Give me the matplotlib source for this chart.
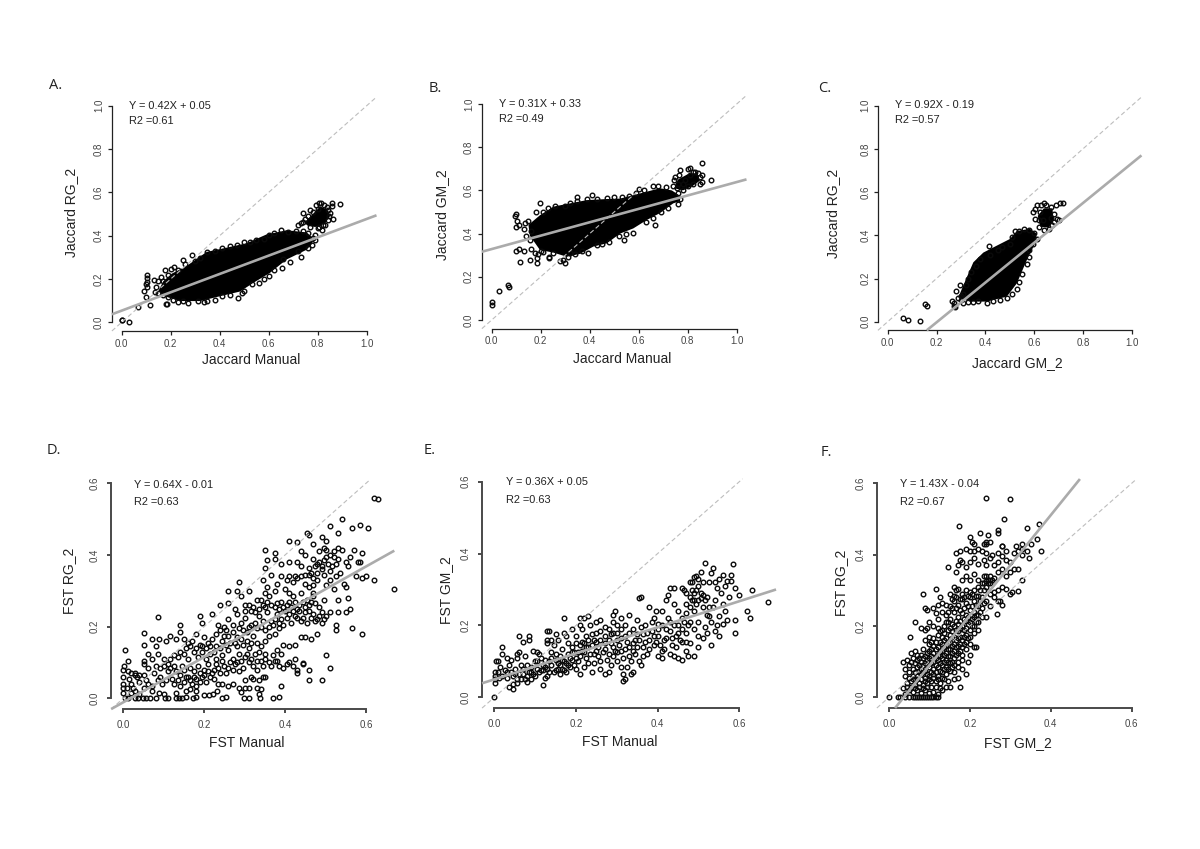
import matplotlib
matplotlib.use("Agg")
import matplotlib.pyplot as plt

plt.rcParams['font.family'] = ['Liberation Sans', 'DejaVu Sans']

W, H = 1200, 849

# solid black middle of the three Jaccard clouds, outline
a_core = [(.15,.145),(.17,.19),(.205,.225),(.265,.26),(.347,.325),(.43,.345),(.51,.365),(.59,.405),(.673,.425),(.755,.415),(.785,.385),
          (.775,.36),(.755,.335),(.673,.29),(.605,.228),(.537,.182),(.483,.142),(.40,.12),(.32,.098),(.238,.098),(.17,.122)]
a_blob = [(.745,.46),(.78,.50),(.81,.535),(.84,.52),(.85,.49),(.83,.455),(.79,.44),(.76,.445)]
b_core = [(.15,.44),(.197,.485),(.252,.525),(.32,.54),(.388,.555),(.47,.56),(.524,.562),(.578,.578),(.633,.594),(.687,.61),(.735,.6),(.769,.575),
          (.769,.55),(.741,.54),(.687,.495),(.633,.463),(.578,.424),(.524,.4),(.47,.355),(.415,.34),(.36,.306),(.306,.293),(.252,.312),(.197,.324),(.156,.39)]
b_blob = [(.745,.61),(.76,.65),(.8,.675),(.84,.68),(.85,.645),(.82,.62),(.78,.60)]
c_core = [(.29,.11),(.296,.13),(.324,.205),(.351,.275),(.392,.32),(.447,.352),(.501,.383),(.529,.42),(.583,.43),(.608,.41),(.611,.378),
          (.57,.285),(.529,.177),(.488,.116),(.406,.093),(.337,.093)]
c_blob = [(.625,.44),(.615,.49),(.64,.525),(.675,.525),(.68,.47),(.66,.435)]

# open circles around the rims and the stragglers
a_pts = [(0,.012),(.002,.01),(.029,.002),(.065,.07),(.116,.08),(.184,.083),(.18,.085),(.098,.118),(.09,.146),(.102,.165),(.105,.188),
         (.105,.218),(.105,.203),(.1,.175),(.13,.195),(.136,.142),(.14,.165),(.15,.19),(.16,.21),(.17,.19),(.177,.24),(.19,.22),(.2,.245),(.215,.257),(.23,.24),
         (.249,.288),(.26,.27),(.288,.31),(.3,.285),(.32,.295),(.35,.325),(.38,.33),(.41,.345),(.44,.35),(.47,.355),(.5,.37),(.525,.37),
         (.55,.38),(.58,.385),(.6,.405),(.62,.41),(.65,.425),(.68,.415),(.71,.42),(.74,.42),(.76,.41),(.79,.403),(.78,.39),
         (.79,.38),(.775,.355),(.76,.345),(.72,.33),(.732,.303),(.687,.277),(.66,.29),(.653,.252),(.62,.24),(.6,.215),(.58,.2),(.559,.18),
         (.53,.175),(.5,.145),(.49,.135),(.473,.113),(.44,.125),(.41,.12),(.38,.105),(.337,.095),(.35,.1),(.31,.1),(.272,.088),(.25,.1),
         (.23,.095),(.21,.105),(.19,.115),(.17,.125),(.15,.135),(.891,.546),(.86,.549),(.86,.538),(.861,.477),(.816,.426),(.721,.449),
         (.741,.503),(.769,.518),(.793,.54),(.807,.549),(.837,.534),(.85,.503),(.823,.449),(.73,.46),(.75,.475),(.77,.44),(.8,.435),
         (.84,.47),(.845,.49),(.815,.55),(.825,.54),(.84,.52),(.78,.51),(.76,.49),(.74,.465),(.8,.525),(.83,.45),(.805,.44)]
b_pts = [(0,.085),(0,.07),(.03,.135),(.066,.16),(.07,.153),(.1,.43),(.095,.48),(.1,.49),(.105,.46),(.11,.44),(.13,.42),(.135,.45),(.15,.46),
         (.18,.5),(.197,.54),(.21,.5),(.23,.52),(.26,.53),(.3,.53),(.32,.54),(.35,.55),(.35,.57),(.39,.56),(.41,.58),(.43,.56),(.47,.565),(.5,.57),
         (.53,.57),(.56,.575),(.59,.59),(.6,.605),(.62,.6),(.66,.62),(.68,.62),(.71,.615),(.74,.62),(.75,.66),(.745,.65),(.765,.67),(.77,.695),(.8,.7),(.81,.705),
         (.86,.725),(.895,.65),(.86,.67),(.86,.64),(.85,.63),(.84,.68),(.82,.685),(.8,.62),(.78,.6),(.76,.59),(.77,.56),(.76,.535),(.72,.52),(.69,.5),(.665,.44),
         (.66,.47),(.63,.455),(.575,.405),(.55,.4),(.54,.37),(.52,.39),(.48,.36),(.45,.35),(.43,.345),(.395,.31),(.37,.32),(.34,.305),(.32,.31),(.31,.29),(.3,.265),(.29,.28),
         (.28,.275),(.25,.31),(.235,.285),(.235,.29),(.2,.32),(.19,.305),(.185,.285),(.185,.265),(.155,.28),(.115,.27),(.1,.32),(.11,.33),(.13,.32),(.16,.33),(.155,.37),(.14,.39),
         (.16,.41),(.175,.31),(.21,.315),(.78,.63),(.79,.65),(.81,.67),(.83,.685),(.76,.63),(.755,.61),(.85,.66),(.82,.63)]
c_pts = [(.063,.015),(.083,.01),(.134,.002),(.153,.08),(.16,.072),(.262,.095),(.27,.085),(.27,.075),(.275,.07),(.28,.14),(.29,.11),(.3,.1),(.295,.17),(.31,.13),(.32,.17),
         (.33,.2),(.34,.23),(.36,.26),(.38,.29),(.416,.35),(.42,.31),(.45,.33),(.47,.345),(.5,.36),(.51,.39),(.52,.42),(.54,.42),(.56,.43),(.58,.425),(.6,.41),(.61,.385),
         (.595,.36),(.58,.33),(.58,.3),(.57,.265),(.55,.22),(.54,.185),(.53,.15),(.51,.13),(.49,.11),(.46,.1),(.43,.095),(.405,.085),(.37,.095),(.35,.09),(.33,.09),(.31,.085),
         (.3,.12),(.62,.44),(.603,.475),(.605,.52),(.595,.51),(.61,.54),(.63,.54),(.64,.55),(.65,.54),(.67,.53),(.69,.54),(.705,.55),(.72,.55),(.68,.5),(.695,.475),(.7,.47),(.675,.45),
         (.66,.43),(.64,.425),(.62,.47),(.625,.51),(.67,.48),(.68,.46),(.635,.47)]

d_pts = [(.003,.0),(.012,.0),(.028,.0),(.036,.0),(.048,.0),(.056,.0),(.066,.0),(.082,.0),(.102,.0),(.11,.0),(.13,.0),(.138,.0),(.146,.0),(.156,.005),(.172,.0),(.18,.005),
         (.245,.0),(.255,.004),(.298,.0),(.31,.0),(.338,.0),(.37,.0),(.385,.004),(.335,.012),(.2,.008),(.212,.01),(.222,.012),(.232,.02),(.29,.018),(.3,.028),(.31,.03),(.33,.03),
         (.34,.025),(.07,.02),(.088,.015),(.1,.012),(.13,.015),(.155,.02),(.165,.025),(.18,.02),(.02,.015),(.03,.02),(.04,.012),(.05,.03),(.01,.03),(.0,.03),(.0,.015),
         (.0,.04),(.02,.04),(.04,.045),(.055,.05),(.07,.035),(.085,.05),(.095,.04),(.125,.04),(.135,.05),(.14,.035),(.15,.045),(.16,.06),(.17,.04),(.18,.055),(.19,.045),(.2,.065),
         (.215,.06),(.225,.055),(.235,.04),(.245,.04),(.26,.035),(.27,.04),(.285,.03),(.3,.05),(.315,.06),(.32,.055),(.335,.05),(.345,.06),(.35,.06),(.39,.035),(.0,.06),(.03,.065),
         (.05,.065),(.105,.05),(.12,.055),(.43,.07),(.46,.05),(.49,.05),(.43,.08),(.445,.095),(.0,.08),(.002,.09),(.012,.075),(.02,.07),(.03,.07),(.04,.065),(.05,.095),(.06,.085),
         (.08,.09),(.09,.085),(.1,.09),(.11,.095),(.115,.085),(.13,.075),(.15,.08),(.165,.085),(.175,.075),(.185,.09),(.2,.08),(.21,.095),(.225,.08),(.24,.07),(.25,.09),(.26,.085),
         (.27,.08),(.28,.1),(.295,.085),(.31,.1),(.32,.09),(.33,.08),(.345,.09),(.36,.1),(.375,.105),(.385,.09),(.395,.085),(.405,.095),(.41,.1),(.42,.09),(.425,.11),(.46,.08),
         (.51,.085),(.5,.12),(.445,.098),(.005,.135),(.012,.105),(.05,.105),(.06,.125),(.07,.11),(.085,.125),(.1,.11),(.115,.11),(.125,.12),(.135,.115),(.15,.125),(.16,.11),(.175,.13),
         (.185,.115),(.195,.13),(.205,.11),(.215,.125),(.23,.11),(.245,.12),(.26,.135),(.27,.11),(.285,.125),(.3,.115),(.31,.14),(.325,.125),(.335,.13),(.35,.11),(.37,.12),(.38,.135),
         (.39,.125),(.41,.145),(.425,.15),(.44,.17),(.23,.145),(.05,.15),(.07,.165),(.08,.145),(.088,.165),(.105,.16),(.115,.175),(.13,.165),(.14,.185),(.15,.165),(.16,.155),(.17,.16),
         (.18,.18),(.19,.15),(.2,.17),(.21,.155),(.22,.165),(.23,.18),(.245,.16),(.26,.175),(.275,.155),(.29,.165),(.305,.185),(.32,.175),(.35,.16),(.36,.175),(.375,.18),(.385,.195),
         (.395,.15),(.45,.17),(.465,.165),(.48,.18),(.525,.19),(.525,.205),(.59,.18),(.565,.195),(.05,.183),(.085,.228),(.14,.205),(.19,.23),(.195,.21),(.22,.235),(.235,.205),(.25,.2),
         (.26,.22),(.27,.205),(.28,.235),(.29,.21),(.3,.225),(.315,.245),(.325,.21),(.335,.23),(.345,.215),(.355,.24),(.37,.205),(.38,.235),(.39,.22),(.4,.245),(.415,.21),(.425,.23),
         (.435,.245),(.445,.225),(.455,.21),(.47,.235),(.48,.22),(.49,.24),(.5,.23),(.49,.21),(.46,.245),(.51,.24),(.53,.24),(.55,.24),(.56,.25),(.24,.26),(.26,.265),(.275,.25),
         (.29,.285),(.3,.26),(.32,.255),(.33,.275),(.345,.26),(.36,.285),(.375,.255),(.39,.27),(.405,.26),(.42,.285),(.43,.25),(.445,.27),(.46,.26),(.47,.285),(.485,.255),(.495,.275),
         (.53,.275),(.555,.28),(.28,.3),(.26,.3),(.31,.3),(.35,.295),(.375,.3),(.41,.295),(.44,.295),(.47,.295),(.285,.325),(.345,.33),(.38,.32),(.39,.34),(.41,.34),(.42,.325),
         (.43,.335),(.44,.34),(.45,.32),(.46,.345),(.47,.315),(.48,.33),(.495,.345),(.51,.33),(.525,.34),(.535,.35),(.545,.32),(.55,.31),(.575,.34),(.6,.34),(.59,.335),(.62,.33),
         (.4,.305),(.365,.345),(.355,.31),(.668,.305),(.52,.305),(.5,.315),(.35,.365),(.355,.385),(.35,.415),(.375,.405),(.375,.39),(.39,.375),(.41,.38),(.43,.38),(.44,.37),(.44,.41),
         (.45,.4),(.46,.365),(.47,.39),(.48,.375),(.49,.36),(.5,.395),(.5,.415),(.515,.37),(.52,.41),(.53,.39),(.54,.415),(.55,.38),(.56,.395),(.57,.415),(.58,.38),(.59,.405),(.585,.38),
         (.555,.37),(.485,.41),(.51,.355),(.41,.44),(.43,.435),(.455,.46),(.46,.455),(.47,.43),(.49,.45),(.5,.44),(.53,.46),(.51,.48),(.54,.5),(.565,.475),(.585,.485),(.605,.475),
         (.62,.56),(.63,.555),(.495,.42)]
# second pass over the busier parts of D
d_more = [(.015,.055),(.025,.03),(.035,.06),(.06,.04),(.075,.07),(.09,.06),(.11,.075),(.125,.09),(.14,.065),(.145,.09),(.155,.06),(.165,.05),(.175,.06),(.18,.035),(.19,.07),(.195,.06),
          (.205,.045),(.21,.075),(.22,.07),(.23,.095),(.235,.085),(.245,.105),(.255,.07),(.265,.1),(.275,.095),(.285,.075),(.29,.105),(.305,.125),(.315,.11),(.33,.105),(.34,.105),
          (.35,.125),(.365,.09),(.38,.105),(.14,.13),(.155,.14),(.165,.145),(.18,.14),(.195,.145),(.205,.14),(.215,.145),(.225,.13),(.24,.14),(.255,.15),(.265,.155),(.28,.145),(.295,.15),
          (.305,.16),(.315,.155),(.33,.155),(.34,.145),(.24,.19),(.25,.175),(.255,.19),(.27,.185),(.28,.17),(.285,.195),(.295,.19),(.31,.2),(.315,.205),(.33,.195),(.34,.2),(.35,.19),
          (.36,.2),(.365,.215),(.375,.22),(.385,.21),(.395,.205),(.405,.225),(.41,.235),(.42,.245),(.43,.225),(.44,.215),(.45,.24),(.465,.225),(.475,.215),(.485,.23),(.495,.22),(.3,.245),
          (.31,.26),(.325,.24),(.335,.25),(.34,.275),(.35,.255),(.355,.27),(.365,.26),(.38,.265),(.385,.25),(.395,.255),(.41,.27),(.415,.255),(.425,.27),(.435,.26),(.45,.255),(.455,.275),
          (.465,.27),(.475,.265),(.46,.31),(.47,.335),(.48,.35),(.49,.37),(.495,.385),(.505,.375),(.51,.4),(.52,.395),(.525,.375),(.53,.42),(.485,.38),(.475,.37),(.465,.35),(.45,.345),
          (.425,.34),(.405,.33)]

e_pts = [(.0,.0),(.002,.04),(.002,.05),(.002,.06),(.002,.07),(.003,.1),(.01,.1),(.015,.085),(.02,.12),(.02,.14),(.03,.11),(.035,.09),(.04,.105),(.035,.03),(.045,.038),(.047,.022),
         (.055,.04),(.055,.05),(.06,.065),(.055,.12),(.055,.11),(.06,.125),(.06,.17),(.07,.155),(.085,.16),(.085,.17),(.07,.08),(.075,.115),(.08,.09),(.085,.07),(.075,.05),(.08,.042),
         (.09,.05),(.095,.13),(.105,.125),(.11,.12),(.115,.11),(.105,.08),(.115,.075),(.12,.035),(.125,.055),(.13,.06),(.13,.16),(.13,.15),(.13,.185),(.135,.185),(.14,.16),(.145,.145),
         (.15,.175),(.155,.16),(.14,.11),(.15,.12),(.14,.09),(.15,.075),(.16,.065),(.165,.135),(.17,.1),(.17,.18),(.17,.22),(.175,.17),(.18,.15),(.18,.12),(.19,.19),(.19,.14),(.19,.105),
         (.2,.08),(.2,.17),(.205,.125),(.21,.145),(.21,.065),(.215,.19),(.21,.2),(.21,.22),(.22,.22),(.225,.17),(.225,.11),(.23,.14),(.23,.095),(.235,.2),(.23,.225),(.01,.07),(.02,.06),
         (.025,.075),(.03,.055),(.04,.07),(.045,.06),(.05,.08),(.065,.09),(.09,.07),(.1,.1),(.1,.06),(.12,.09),(.125,.105),(.13,.08),(.135,.1),(.145,.07),(.155,.095),(.16,.115),(.165,.08),
         (.175,.07),(.185,.085),(.195,.125),(.2,.15),(.215,.13),(.22,.15),(.22,.085),(.24,.07),(.245,.12),(.245,.16),(.25,.18),(.25,.21),(.255,.14),(.26,.1),(.26,.08),(.27,.065),(.27,.15),
         (.27,.17),(.27,.195),(.28,.12),(.28,.07),(.285,.09),(.29,.14),(.29,.18),(.29,.21),(.29,.23),(.295,.24),(.3,.16),(.3,.1),(.31,.13),(.31,.085),(.315,.065),(.315,.045),(.32,.05),
         (.325,.085),(.32,.17),(.32,.2),(.33,.14),(.33,.23),(.335,.1),(.335,.065),(.34,.07),(.34,.19),(.345,.12),(.345,.16),(.35,.215),(.355,.1),(.355,.275),(.36,.28),(.36,.09),
         (.365,.14),(.365,.175),(.37,.2),(.375,.12),(.38,.16),(.38,.25),(.385,.185),(.39,.145),(.39,.22),(.395,.24),(.4,.115),(.4,.17),(.4,.205),(.41,.13),(.41,.11),(.41,.24),(.415,.16),
         (.42,.19),(.42,.27),(.425,.285),(.43,.12),(.43,.21),(.435,.145),(.44,.26),(.44,.115),(.445,.17),(.45,.11),(.45,.2),(.45,.24),(.46,.105),(.46,.155),(.46,.22),(.46,.305),
         (.465,.3),(.47,.13),(.47,.18),(.47,.26),(.475,.115),(.48,.15),(.48,.21),(.48,.28),(.485,.27),(.485,.32),(.49,.115),(.49,.19),(.49,.24),(.495,.3),(.5,.14),(.5,.17),(.5,.21),
         (.5,.27),(.505,.29),(.51,.25),(.51,.165),(.515,.195),(.52,.18),(.52,.28),(.525,.225),(.53,.145),(.53,.21),(.535,.25),(.54,.185),(.54,.27),(.545,.2),(.55,.17),(.55,.225),
         (.555,.29),(.56,.205),(.56,.26),(.565,.24),(.57,.215),(.575,.28),(.585,.37),(.58,.34),(.56,.34),(.55,.33),(.53,.345),(.535,.36),(.515,.375),(.505,.35),(.49,.335),(.495,.338),
         (.59,.18),(.59,.215),(.59,.305),(.6,.285),(.62,.24),(.625,.22),(.63,.3),(.67,.265),(.51,.32),(.525,.32),(.54,.32),(.545,.305),(.57,.325),(.58,.325),(.565,.31),(.48,.32),
         (.47,.29),(.44,.305),(.43,.305),(.5,.33),(.5,.31),(.26,.215),(.28,.19),(.31,.22),(.3,.2)]
# second pass over the busier parts of E
e_more = [(.012,.055),(.03,.07),(.05,.065),(.065,.05),(.07,.065),(.08,.06),(.09,.085),(.095,.065),(.105,.1),(.11,.07),(.12,.075),(.125,.085),(.135,.07),(.14,.125),(.15,.105),(.155,.08),
          (.16,.09),(.165,.105),(.17,.075),(.175,.095),(.18,.09),(.185,.11),(.19,.125),(.195,.09),(.2,.11),(.205,.1),(.21,.115),(.215,.155),(.22,.125),(.225,.14),(.23,.16),(.235,.12),
          (.24,.145),(.24,.175),(.245,.095),(.25,.13),(.25,.155),(.255,.115),(.26,.16),(.26,.185),(.265,.125),(.27,.135),(.275,.105),(.28,.16),(.285,.15),(.285,.175),(.29,.115),(.295,.13),
          (.3,.125),(.3,.18),(.305,.145),(.31,.165),(.31,.19),(.315,.11),(.32,.135),(.325,.155),(.33,.115),(.33,.18),(.34,.13),(.34,.15),(.35,.14),(.35,.175),(.355,.16),(.36,.195),(.365,.115),
          (.37,.155),(.375,.18),(.38,.135),(.385,.21),(.39,.17),(.395,.155),(.4,.19),(.405,.145),(.41,.2),(.415,.135),(.42,.165),(.425,.22),(.43,.185),(.435,.165),(.44,.2),(.445,.14),
          (.45,.18),(.455,.16),(.46,.19),(.465,.21),(.47,.155),(.47,.235),(.475,.2),(.48,.25),(.485,.3),(.49,.27),(.49,.29),(.495,.26),(.505,.275),(.51,.285),(.515,.27),(.52,.23),(.525,.25)]

f_pts = [(.0,.0),(.022,.0),(.028,.0),(.04,.0),(.05,.0),(.06,.0),(.065,.0),(.07,.0),(.075,.0),(.08,.0),(.085,.0),(.09,.0),(.095,.0),(.1,.0),(.105,.0),(.11,.0),(.115,.0),(.12,.0),
         (.04,.01),(.05,.02),(.06,.015),(.07,.02),(.08,.012),(.09,.02),(.1,.012),(.11,.015),(.12,.01),(.13,.02),(.14,.03),(.15,.03),(.175,.03),(.035,.025),(.045,.04),(.055,.045),(.065,.035),
         (.075,.04),(.085,.035),(.095,.04),(.105,.03),(.115,.045),(.125,.04),(.135,.05),(.145,.045),(.16,.05),(.17,.055),(.19,.065),(.04,.06),(.05,.07),(.06,.06),(.07,.06),(.08,.065),
         (.09,.055),(.1,.06),(.11,.065),(.12,.06),(.13,.07),(.14,.065),(.15,.075),(.16,.07),(.17,.085),(.18,.08),(.04,.08),(.05,.09),(.06,.08),(.07,.085),(.08,.08),(.09,.075),(.1,.085),
         (.11,.08),(.12,.085),(.13,.09),(.14,.085),(.15,.095),(.16,.09),(.17,.1),(.18,.105),(.195,.1),(.035,.1),(.045,.105),(.055,.1),(.06,.11),(.07,.105),(.08,.1),(.09,.095),(.1,.11),
         (.11,.1),(.12,.105),(.13,.11),(.14,.105),(.15,.115),(.16,.11),(.17,.125),(.18,.12),(.19,.135),(.2,.12),(.21,.14),(.055,.125),(.065,.13),(.07,.12),(.08,.12),(.09,.115),(.1,.13),
         (.11,.125),(.12,.12),(.13,.13),(.14,.125),(.15,.135),(.16,.13),(.17,.145),(.18,.14),(.19,.155),(.2,.15),(.215,.14),(.053,.168),(.085,.135),(.09,.16),(.1,.15),(.11,.145),(.12,.14),
         (.13,.15),(.14,.145),(.15,.155),(.16,.15),(.17,.165),(.18,.16),(.19,.175),(.2,.17),(.21,.18),(.22,.19),(.065,.212),(.08,.195),(.09,.19),(.095,.195),(.1,.17),(.11,.165),(.12,.175),
         (.13,.17),(.14,.165),(.15,.175),(.16,.17),(.17,.185),(.18,.18),(.19,.195),(.2,.19),(.21,.2),(.22,.21),(.23,.225),(.09,.25),(.095,.245),(.1,.21),(.11,.2),(.115,.235),(.12,.195),
         (.13,.19),(.14,.21),(.15,.195),(.16,.2),(.17,.205),(.18,.2),(.19,.215),(.2,.21),(.21,.225),(.22,.23),(.24,.225),(.11,.25),(.12,.22),(.13,.24),(.14,.23),(.15,.22),(.16,.24),
         (.17,.225),(.18,.235),(.19,.23),(.2,.245),(.21,.24),(.22,.255),(.23,.25),(.25,.255),(.268,.233),(.085,.29),(.12,.26),(.13,.265),(.14,.26),(.15,.255),(.16,.27),(.17,.26),
         (.18,.275),(.19,.265),(.2,.28),(.21,.27),(.22,.285),(.23,.28),(.24,.27),(.25,.29),(.26,.28),(.27,.27),(.28,.26),(.275,.27),(.115,.305),(.125,.28),(.15,.29),(.16,.285),(.165,.3),
         (.17,.305),(.18,.29),(.19,.3),(.2,.295),(.21,.3),(.22,.31),(.23,.32),(.24,.31),(.25,.32),(.26,.295),(.27,.3),(.28,.31),(.29,.305),(.3,.29),(.305,.295),(.318,.298),(.16,.31),
         (.18,.33),(.19,.34),(.2,.33),(.21,.345),(.22,.33),(.235,.34),(.24,.325),(.25,.34),(.26,.335),(.27,.35),(.28,.36),(.29,.34),(.3,.35),(.31,.36),(.32,.36),(.33,.33),(.147,.365),
         (.165,.35),(.17,.37),(.175,.385),(.18,.38),(.19,.365),(.2,.38),(.21,.39),(.22,.375),(.235,.385),(.24,.37),(.25,.39),(.26,.37),(.27,.38),(.28,.395),(.29,.385),(.3,.38),(.31,.405),
         (.32,.41),(.33,.4),(.345,.39),(.165,.405),(.175,.41),(.19,.415),(.2,.41),(.21,.41),(.22,.415),(.23,.41),(.24,.405),(.255,.4),(.27,.405),(.28,.425),(.29,.41),(.315,.425),(.33,.415),
         (.34,.41),(.375,.41),(.173,.48),(.2,.45),(.205,.435),(.21,.43),(.225,.46),(.235,.43),(.24,.435),(.24,.43),(.25,.435),(.27,.46),(.27,.47),(.28,.425),(.245,.455),(.285,.5),
         (.24,.56),(.3,.555),(.33,.43),(.34,.475),(.37,.485),(.365,.445),(.35,.43)]
# second pass over the busier parts of F
f_more = [(.045,.03),(.055,.03),(.065,.025),(.075,.03),(.085,.025),(.095,.03),(.105,.045),(.115,.03),(.125,.025),(.05,.055),(.06,.05),(.07,.05),(.08,.05),(.09,.045),(.1,.05),(.11,.055),
          (.12,.05),(.13,.055),(.065,.07),(.075,.075),(.085,.07),(.095,.065),(.105,.07),(.115,.07),(.125,.075),(.135,.08),(.145,.08),(.155,.085),(.065,.095),(.075,.09),(.085,.09),(.095,.09),
          (.105,.095),(.115,.09),(.125,.095),(.135,.1),(.145,.1),(.155,.1),(.165,.12),(.075,.11),(.085,.11),(.095,.105),(.105,.115),(.115,.11),(.125,.115),(.135,.12),(.145,.115),(.155,.125),
          (.175,.13),(.095,.125),(.105,.135),(.115,.135),(.125,.13),(.135,.14),(.145,.135),(.155,.145),(.165,.14),(.175,.15),(.185,.15),(.105,.155),(.115,.155),(.125,.155),(.135,.16),(.145,.155),
          (.155,.165),(.165,.16),(.175,.17),(.185,.17),(.195,.165),(.125,.185),(.135,.18),(.145,.19),(.155,.185),(.165,.19),(.175,.195),(.185,.19),(.195,.205),(.205,.2),(.215,.21),(.135,.2),
          (.145,.21),(.155,.205),(.165,.215),(.175,.215),(.185,.22),(.195,.225),(.205,.22),(.215,.23),(.225,.24),(.145,.24),(.155,.25),(.165,.25),(.175,.245),(.185,.25),(.195,.255),(.205,.255),
          (.215,.26),(.225,.27),(.235,.265),(.155,.275),(.165,.28),(.175,.275),(.185,.28),(.195,.285),(.205,.29),(.215,.285),(.225,.3),(.235,.3),(.245,.33),(.24,.34),(.25,.33),(.245,.32),
          (.255,.33),(.235,.32)]

# panel order: label, x label, y label, equation, r2, tick top, core, points, regression ends, 1:1 end
jac_ticks = [0.0, 0.2, 0.4, 0.6, 0.8, 1.0]
fst_ticks = [0.0, 0.2, 0.4, 0.6]

panels = [
    dict(letter="A.", xlab="Jaccard Manual", ylab="Jaccard RG_2", eq="Y = 0.42X + 0.05", r2="R2 =0.61", ticks=jac_ticks,
         core=[a_core, a_blob], pts=a_pts, reg=([-.04, 1.04], [.037, .494]), diag=(-.04, 1.04),
         xpx=(121.7, 366.7), ypx=(322.3, 105.7), xlim=(-.04, 1.04), ylim=(-.04, 1.04), up=True,
         letter_at=(49, 85.5), eq_at=(129.3, 106, 120.5), xl_at=(250.7, 360), yl_at=(70.7, 212.7)),
    dict(letter="B.", xlab="Jaccard Manual", ylab="Jaccard GM_2", eq="Y = 0.31X + 0.33", r2="R2 =0.49", ticks=jac_ticks,
         core=[b_core, b_blob], pts=b_pts, reg=([-.04, 1.04], [.316, .651]), diag=(-.04, 1.04),
         xpx=(491.7, 736.7), ypx=(320, 104), xlim=(-.04, 1.04), ylim=(-.04, 1.04), up=True,
         letter_at=(429, 89), eq_at=(499.3, 103.7, 118.7), xl_at=(621.7, 359), yl_at=(442.3, 215)),
    dict(letter="C.", xlab="Jaccard GM_2", ylab="Jaccard RG_2", eq="Y = 0.92X - 0.19", r2="R2 =0.57", ticks=jac_ticks,
         core=[c_core, c_blob], pts=c_pts, reg=([.16, 1.04], [-.04, .77]), diag=(-.04, 1.04),
         xpx=(887.7, 1131.7), ypx=(321.7, 105.7), xlim=(-.04, 1.04), ylim=(-.04, 1.04), up=True,
         letter_at=(818, 88), eq_at=(895, 105, 120), xl_at=(1017, 362.7), yl_at=(833, 213)),
    dict(letter="D.", xlab="FST Manual", ylab="FST RG_2", eq="Y = 0.64X - 0.01", r2="R2 =0.63", ticks=fst_ticks,
         core=[], pts=d_pts + d_more, reg=([-.03, .67], [-.03, .412]), diag=(-.03, .607),
         xpx=(123.3, 366), ypx=(698.3, 483.3), xlim=(-.03, .67), ylim=(-.03, .61), up=False,
         letter_at=(47, 451), eq_at=(134, 485, 502.3), xl_at=(246.7, 743.3), yl_at=(69.3, 580.7)),
    dict(letter="E.", xlab="FST Manual", ylab="FST GM_2", eq="Y = 0.36X + 0.05", r2="R2 =0.63", ticks=fst_ticks,
         core=[], pts=e_pts + e_more, reg=([-.03, .69], [.039, .30]), diag=(-.03, .608),
         xpx=(494.3, 739.3), ypx=(697.3, 481.7), xlim=(-.03, .69), ylim=(-.03, .61), up=False,
         letter_at=(424, 450), eq_at=(505.7, 482, 500.3), xl_at=(620, 742.3), yl_at=(445.7, 590)),
    dict(letter="F.", xlab="FST GM_2", ylab="FST RG_2", eq="Y = 1.43X - 0.04", r2="R2 =0.67", ticks=fst_ticks,
         core=[], pts=f_pts + f_more, reg=([.015, .472], [-.03, .612]), diag=(-.03, .608),
         xpx=(889, 1131.7), ypx=(697.3, 483.3), xlim=(-.03, .61), ylim=(-.03, .61), up=False,
         letter_at=(821, 452), eq_at=(900, 484.3, 501.7), xl_at=(1018, 743), yl_at=(840.7, 582.7)),
]


def put(x, y, s, **kw):
    return fig.text(x / W, 1 - y / H, s, **kw)


fig = plt.figure(figsize=(W / 100, H / 100), dpi=100, facecolor="white")

for p in panels:
    top = p["ticks"][-1]
    sx = (p["xpx"][1] - p["xpx"][0]) / top
    sy = (p["ypx"][0] - p["ypx"][1]) / top
    left = p["xpx"][0] + p["xlim"][0] * sx
    right = p["xpx"][0] + p["xlim"][1] * sx
    bottom = p["ypx"][0] - p["ylim"][0] * sy
    upper = p["ypx"][0] - p["ylim"][1] * sy
    ax = fig.add_axes([left / W, 1 - bottom / H, (right - left) / W, (bottom - upper) / H])
    ax.set_xlim(p["xlim"])
    ax.set_ylim(p["ylim"])
    ax.patch.set_alpha(0)

    for outline in p["core"]:
        ax.fill([q[0] for q in outline], [q[1] for q in outline], color="black", lw=0, zorder=2)
    ax.plot([q[0] for q in p["pts"]], [q[1] for q in p["pts"]], "o", ms=3.3, mfc="none", mec="#0a0a0a",
            mew=1.0, clip_on=False, zorder=3)
    ax.plot(p["diag"], p["diag"], color="#bdbdbd", lw=0.8, ls=(0, (4, 2.5)), clip_on=False, zorder=4)
    ax.plot(p["reg"][0], p["reg"][1], color="#ababab", lw=1.9, clip_on=False, solid_capstyle="butt", zorder=5)

    for side in ["top", "right"]:
        ax.spines[side].set_visible(False)
    spine_col = "#222222" if p["up"] else "#4a4a4a"
    spine_w = 0.9 if p["up"] else 1.4
    for side in ["left", "bottom"]:
        ax.spines[side].set_bounds(0, top)
        ax.spines[side].set_color(spine_col)
        ax.spines[side].set_linewidth(spine_w)
    ax.set_xticks(p["ticks"])
    ax.set_yticks(p["ticks"])
    ax.set_xticklabels(["%.1f" % t for t in p["ticks"]])
    ax.set_yticklabels(["%.1f" % t for t in p["ticks"]], rotation=90, va="center")
    pad = 2.6 if p["up"] else 5
    ax.tick_params(length=3, width=spine_w, color=spine_col, labelsize=7, labelcolor="#444444", pad=pad)

    put(p["letter_at"][0], p["letter_at"][1], p["letter"], family="Open Sans", fontsize=10.5, va="center", color="#222222")
    put(p["eq_at"][0], p["eq_at"][1], p["eq"], fontsize=7.9, va="center", color="#222222")
    put(p["eq_at"][0], p["eq_at"][2], p["r2"], fontsize=7.9, va="center", color="#222222")
    put(p["xl_at"][0], p["xl_at"][1], p["xlab"], fontsize=10, ha="center", va="center", color="#222222")
    put(p["yl_at"][0], p["yl_at"][1], p["ylab"], fontsize=10, ha="center", va="center", rotation=90, color="#222222")

fig.savefig("out.png", dpi=100)
